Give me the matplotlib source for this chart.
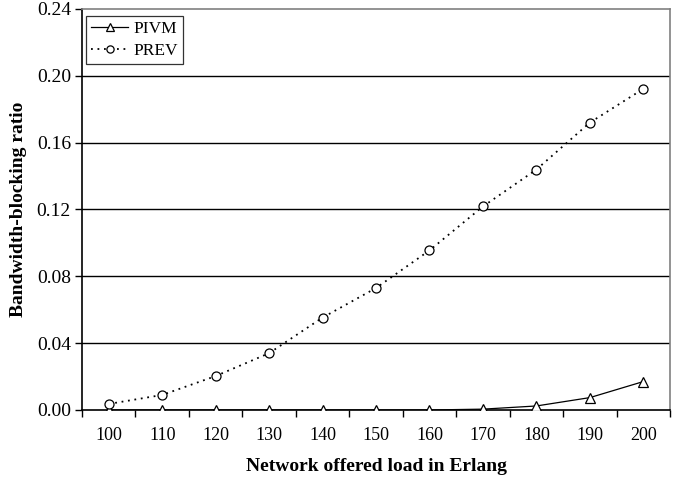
import matplotlib
matplotlib.use("Agg")
import matplotlib.pyplot as plt
import numpy as np

plt.rcParams['font.family'] = ['Liberation Serif', 'DejaVu Serif']

loads = [100, 110, 120, 130, 140, 150, 160, 170, 180, 190, 200]
pivm = [0.0, 0.0, 0.0, 0.0, 0.0, 0.0, 0.0, 0.0005, 0.0024, 0.0074, 0.0170]
prev = [0.0036, 0.0090, 0.0203, 0.0340, 0.0553, 0.0730, 0.0955, 0.1218, 0.1439, 0.1720, 0.1922]
yticks = [0.00, 0.04, 0.08, 0.12, 0.16, 0.20, 0.24]

fig = plt.figure(figsize=(6.87, 4.78), dpi=100)
ax = fig.add_axes([0.1194, 0.1423, 0.8559, 0.8389])

x = np.arange(len(loads))

# grid lines first so the data sit on top
for yv in yticks[1:-1]:
    ax.axhline(yv, color='black', lw=1.0, zorder=1)

ax.plot(x, pivm, color='black', lw=0.9, marker='^', markersize=7,
        markerfacecolor='white', markeredgecolor='black', markeredgewidth=0.9,
        label='PIVM', zorder=3)
ax.plot(x, prev, color='black', lw=1.3, linestyle=(0, (1, 2.6)), marker='o',
        markersize=6.5, markerfacecolor='white', markeredgecolor='black',
        markeredgewidth=0.9, label='PREV', zorder=3)

ax.set_xlim(-0.5, len(loads) - 0.5)
ax.set_ylim(0, 0.24)

ax.set_xticks(x)
ax.set_xticklabels([str(v) for v in loads])
ax.set_xticks(np.arange(-0.5, len(loads), 1.0), minor=True)
ax.tick_params(axis='x', which='major', length=0, labelsize=13, pad=12.5)
ax.tick_params(axis='x', which='minor', length=5, width=1.0, direction='out')

ax.set_yticks(yticks)
ax.set_yticklabels(['%.2f' % v for v in yticks])
ax.tick_params(axis='y', length=5, width=1.0, labelsize=14, pad=3)

ax.spines['left'].set_color('black')
ax.spines['bottom'].set_color('black')
ax.spines['top'].set_color('#808080')
ax.spines['right'].set_color('#808080')
for s in ax.spines.values():
    s.set_linewidth(1.2)

ax.set_xlabel('Network offered load in Erlang', fontsize=14, fontweight='bold', labelpad=10)
ax.set_ylabel('Bandwidth-blocking ratio', fontsize=14, fontweight='bold', labelpad=7)

leg = ax.legend(loc='upper left', bbox_to_anchor=(0.007, 0.9825), fontsize=12.5,
                frameon=True, fancybox=False, edgecolor='black', borderpad=0.3,
                handlelength=2.1, handletextpad=0.3, labelspacing=0.3,
                borderaxespad=0, markerscale=0.8)
leg.get_frame().set_linewidth(0.9)

fig.savefig('out.png', dpi=100)
